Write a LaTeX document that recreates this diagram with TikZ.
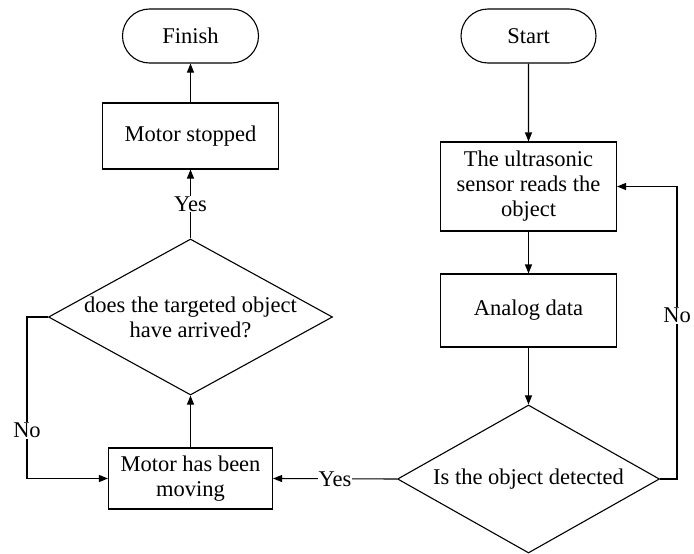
\documentclass[tikz,border=0pt]{standalone}
\usepackage{fontspec}
\setmainfont{Liberation Serif}
\newfontfamily\flowfont{Liberation Serif}
\usetikzlibrary{arrows.meta,shapes.geometric,shapes.misc}
\tikzset{
  terminal/.style={draw, rounded rectangle, minimum width=136pt, minimum height=54pt, inner sep=0pt},
  process/.style={draw, rectangle, minimum width=176pt, align=center, inner sep=0pt},
  decision/.style={draw, diamond, inner sep=0pt},
  flow/.style={-{Triangle[length=9pt,width=7pt]}},
  tag/.style={fill=white, inner sep=1pt},
}
\begin{document}
\begin{tikzpicture}[x=1pt, y=-1pt, line width=1.1pt,
    every node/.style={font=\flowfont\fontsize{22.5}{25}\selectfont}]
      \useasboundingbox (0,0) rectangle (694,554);
      \draw
        (190.5,36) node[terminal] (finish){Finish}
        (190.5,136) node[process, minimum height=66pt] (stopped){Motor stopped}
        (190.5,317) node[decision, minimum width=284pt, minimum height=156pt,
          label={[align=center]center:{does the targeted object\\have arrived?}}] (arrived){}
        (190.5,478.5) node[process, minimum width=164pt, minimum height=61pt] (moving){Motor has been\\moving}
        (528.5,36) node[terminal, minimum width=135pt] (start){Start}
        (528.5,186.5) node[process, minimum height=89pt] (sensor){The ultrasonic\\sensor reads the\\object}
        (528.5,310.5) node[process, minimum height=73pt] (analog){Analog data}
        (528.5,479) node[decision, minimum width=262pt, minimum height=148pt,
          label={center:Is the object detected}] (detected){};
      \coordinate (noR) at (677,479);
      \coordinate (noL) at (27,317);
      \begin{scope}[flow]
        \draw (start) to (sensor);
        \draw (sensor) to (analog);
        \draw (analog) to (detected);
        \draw (detected.east) -- (noR) |- (sensor.east) node[tag, pos=0.28]{No};
        \draw (detected.west) to node[tag]{Yes} (moving.east);
        \draw (moving) to (arrived);
        \draw (arrived.west) -- (noL) |- (moving.west) node[tag, pos=0.35]{No};
        \draw (arrived) to node[tag]{Yes} (stopped);
        \draw (stopped) to (finish);
      \end{scope}
    \end{tikzpicture}
\end{document}
